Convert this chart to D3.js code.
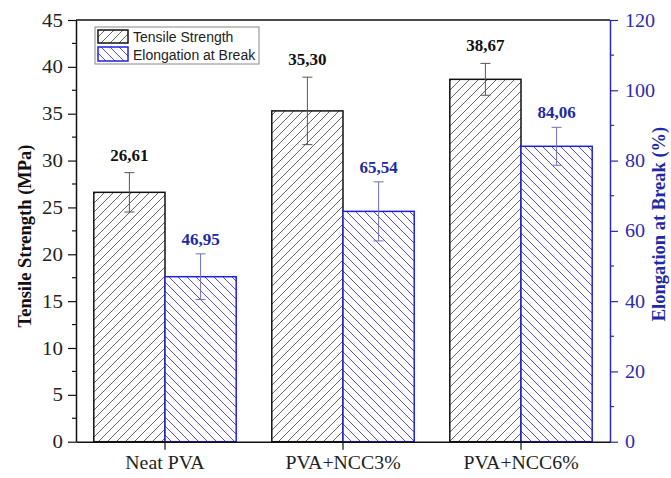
<!DOCTYPE html>
<html>
<head>
<meta charset="utf-8">
<script src="https://cdn.jsdelivr.net/npm/d3@7/dist/d3.min.js"></script>
<style>
  html, body { margin: 0; padding: 0; background: #fff; }
  svg { display: block; }
</style>
</head>
<body>
<svg id="chart" width="671" height="478"></svg>
<script>
const categories = ["Neat PVA", "PVA+NCC3%", "PVA+NCC6%"];
const tensile = [26.61, 35.30, 38.67];
const tensileErr = [2.1, 3.6, 1.7];
const tensileLabels = ["26,61", "35,30", "38,67"];
const elongation = [46.95, 65.54, 84.06];
const elongationErr = [6.5, 8.4, 5.4];
const elongationLabels = ["46,95", "65,54", "84,06"];
const leftTicks = [0, 5, 10, 15, 20, 25, 30, 35, 40, 45];
const rightTicks = [0, 20, 40, 60, 80, 100, 120];

const W = 671, H = 478;
const m = { left: 76, right: 61, top: 20, bottom: 36 };
const x0 = m.left, x1 = W - m.right, yTop = m.top, yBot = H - m.bottom - 0.3;

const BLACK = "#111";
const AXBLUE = "#2b2bb0";
const BARBLUE = "#1f1fe0";
const TXTBLUE = "#1c2aa6";
const serif = "'Liberation Serif', 'Times New Roman', serif";
const sans = "'Liberation Sans', Arial, sans-serif";

const svg = d3.select("#chart");
const defs = svg.append("defs");

function stretch(sel, sx) {
  sel.each(function () {
    const t = d3.select(this);
    const x = +t.attr("x") || 0;
    const y = +t.attr("y") || 0;
    t.attr("transform", `translate(${x},${y}) scale(${sx},1) translate(${-x},${-y})`);
  });
}

function hatch(id, color, dir, w) {
  const p = defs.append("pattern").attr("id", id)
    .attr("patternUnits", "userSpaceOnUse").attr("width", w).attr("height", w);
  p.append("rect").attr("width", w).attr("height", w).attr("fill", "#fff");
  if (dir > 0) {
    p.append("path").attr("d", `M0,${w} L${w},0 M${-w/2},${w/2} L${w/2},${-w/2} M${w/2},${w*1.5} L${w*1.5},${w/2}`)
      .attr("stroke", color).attr("stroke-width", 1);
  } else {
    p.append("path").attr("d", `M0,0 L${w},${w} M${-w/2},${w/2} L${w/2},${w*1.5} M${w/2},${-w/2} L${w*1.5},${w/2}`)
      .attr("stroke", color).attr("stroke-width", 1);
  }
}
hatch("hBlack", "#666", 1, 9);
hatch("hBlue", "#5050d8", -1, 9);

const xBand = d3.scaleBand().domain(categories).range([x0, x1]).paddingInner(0.2).paddingOuter(0.1);
const xSub = d3.scaleBand().domain(["t", "e"]).range([0, xBand.bandwidth()]);
const yL = d3.scaleLinear().domain([0, 45]).range([yBot, yTop]);
const yR = d3.scaleLinear().domain([0, 120]).range([yBot, yTop]);

// bars
const g = svg.append("g");
categories.forEach((c, i) => {
  const bx = xBand(c);
  g.append("rect").attr("x", bx + xSub("t")).attr("y", yL(tensile[i]))
    .attr("width", xSub.bandwidth()).attr("height", yL(0) - yL(tensile[i]))
    .attr("fill", "url(#hBlack)").attr("stroke", BLACK).attr("stroke-width", 1.5);
  g.append("rect").attr("x", bx + xSub("e")).attr("y", yR(elongation[i]))
    .attr("width", xSub.bandwidth()).attr("height", yR(0) - yR(elongation[i]))
    .attr("fill", "url(#hBlue)").attr("stroke", BARBLUE).attr("stroke-width", 1.5);
});

// error bars
function errBar(cx, yS, v, e, color) {
  const capW = 5;
  g.append("line").attr("x1", cx).attr("x2", cx).attr("y1", yS(v + e)).attr("y2", yS(v - e))
    .attr("stroke", color).attr("stroke-width", 1);
  [v + e, v - e].forEach(val => {
    g.append("line").attr("x1", cx - capW).attr("x2", cx + capW).attr("y1", yS(val)).attr("y2", yS(val))
      .attr("stroke", color).attr("stroke-width", 1);
  });
}
categories.forEach((c, i) => {
  const bx = xBand(c);
  const ct = bx + xSub("t") + xSub.bandwidth() / 2;
  const ce = bx + xSub("e") + xSub.bandwidth() / 2;
  errBar(ct, yL, tensile[i], tensileErr[i], "#555");
  errBar(ce, yR, elongation[i], elongationErr[i], "#7070b8");
  g.append("text").attr("x", ct).attr("y", yL(tensile[i] + tensileErr[i]) - 12)
    .attr("text-anchor", "middle").attr("font-family", serif).attr("font-weight", "bold")
    .attr("font-size", 17).attr("fill", BLACK).text(tensileLabels[i]);
  g.append("text").attr("x", ce).attr("y", yR(elongation[i] + elongationErr[i]) - 9)
    .attr("text-anchor", "middle").attr("font-family", serif).attr("font-weight", "bold")
    .attr("font-size", 17).attr("fill", TXTBLUE).text(elongationLabels[i]);
});

// top border
svg.append("line").attr("x1", x0).attr("x2", x1).attr("y1", yTop).attr("y2", yTop)
  .attr("stroke", BLACK).attr("stroke-width", 1.5);

// left axis
const leftAxis = d3.axisLeft(yL).tickValues(leftTicks).tickSize(8).tickPadding(5).tickSizeOuter(0);
const gl = svg.append("g").attr("transform", `translate(${x0},0)`).call(leftAxis);
gl.select(".domain").attr("stroke", BLACK).attr("stroke-width", 1.5);
gl.selectAll(".tick line").attr("stroke", BLACK).attr("stroke-width", 1.2);
gl.selectAll(".tick text").attr("font-family", serif).attr("font-size", 19).attr("fill", "#222");
stretch(gl.selectAll(".tick text"), 1.1);
const leftMinor = d3.range(2.5, 45, 5);
svg.append("g").selectAll("line").data(leftMinor).join("line")
  .attr("x1", x0 - 4).attr("x2", x0).attr("y1", d => yL(d)).attr("y2", d => yL(d))
  .attr("stroke", BLACK).attr("stroke-width", 1.2);

// right axis
const rightAxis = d3.axisRight(yR).tickValues(rightTicks).tickSize(8).tickPadding(7).tickSizeOuter(0);
const gr = svg.append("g").attr("transform", `translate(${x1},0)`).call(rightAxis);
gr.select(".domain").attr("stroke", AXBLUE).attr("stroke-width", 1.5);
gr.selectAll(".tick line").attr("stroke", AXBLUE).attr("stroke-width", 1.2);
gr.selectAll(".tick text").attr("font-family", serif).attr("font-size", 19).attr("fill", AXBLUE);
stretch(gr.selectAll(".tick text"), 1.06);
const rightMinor = d3.range(10, 120, 20);
svg.append("g").selectAll("line").data(rightMinor).join("line")
  .attr("x1", x1).attr("x2", x1 + 4).attr("y1", d => yR(d)).attr("y2", d => yR(d))
  .attr("stroke", AXBLUE).attr("stroke-width", 1.2);

// bottom axis
const bottomAxis = d3.axisBottom(xBand).tickSize(8).tickPadding(7).tickSizeOuter(0);
const gb = svg.append("g").attr("transform", `translate(0,${yBot})`).call(bottomAxis);
gb.select(".domain").attr("stroke", BLACK).attr("stroke-width", 1.5);
gb.selectAll(".tick line").attr("stroke", BLACK).attr("stroke-width", 1.2);
gb.selectAll(".tick text").attr("font-family", serif).attr("font-size", 18).attr("fill", "#222");
stretch(gb.selectAll(".tick text"), 1.1);

// axis titles
svg.append("text").attr("transform", `translate(31,236) rotate(-90)`)
  .attr("text-anchor", "middle").attr("font-family", serif).attr("font-weight", "bold")
  .attr("font-size", 18.5).attr("fill", BLACK).text("Tensile Strength (MPa)");
svg.append("text").attr("transform", `translate(665,224) rotate(-90)`)
  .attr("text-anchor", "middle").attr("font-family", serif).attr("font-weight", "bold")
  .attr("font-size", 18.5).attr("fill", TXTBLUE).text("Elongation at Break (%)");

// legend
const lg = svg.append("g");
lg.append("rect").attr("x", 95).attr("y", 27).attr("width", 164).attr("height", 37)
  .attr("fill", "#fff").attr("stroke", "#888").attr("stroke-width", 1);
lg.append("rect").attr("x", 98).attr("y", 30).attr("width", 30).attr("height", 13)
  .attr("fill", "url(#hBlack)").attr("stroke", BLACK).attr("stroke-width", 1.5);
lg.append("rect").attr("x", 98).attr("y", 47).attr("width", 30).attr("height", 14)
  .attr("fill", "url(#hBlue)").attr("stroke", BARBLUE).attr("stroke-width", 1.5);
lg.append("text").attr("x", 133).attr("y", 41.5).attr("font-family", sans).attr("font-size", 14)
  .attr("fill", "#222").text("Tensile Strength");
lg.append("text").attr("x", 133).attr("y", 59.5).attr("font-family", sans).attr("font-size", 14)
  .attr("fill", "#222").text("Elongation at Break");
</script>
</body>
</html>
